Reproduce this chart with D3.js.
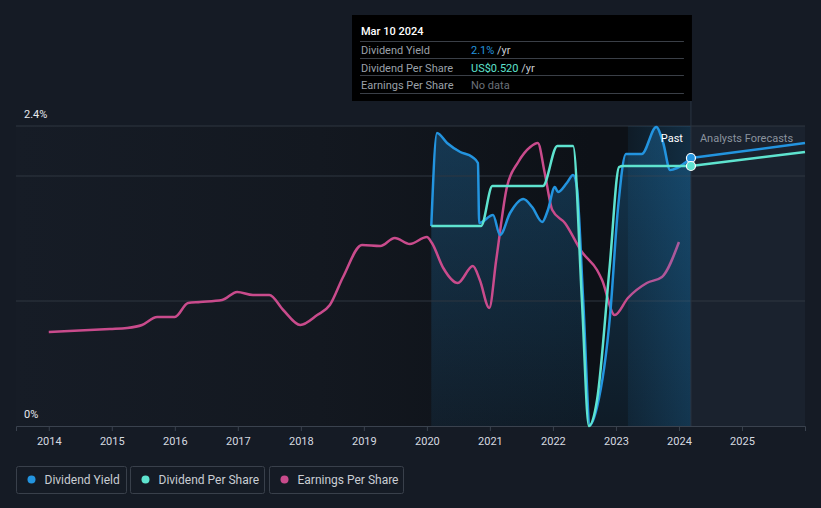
<!DOCTYPE html>
<html>
<head>
<meta charset="utf-8">
<script src="https://cdn.jsdelivr.net/npm/d3@7"></script>
<style>
  html, body { margin: 0; padding: 0; background: #151b25; }
  svg { display: block; font-family: Roboto, "Noto Sans", sans-serif; }
</style>
</head>
<body>
<svg id="chart" width="821" height="508"></svg>
<script>
// ---------- data (decimal years) ----------
const yearTicks = [2014, 2015, 2016, 2017, 2018, 2019, 2020, 2021, 2022, 2023, 2024, 2025];
const yLabels = [{ v: 2.4, t: "2.4%" }, { v: 0, t: "0%" }];
const gridValues = [1.0, 2.0, 2.4];

// Dividend yield (%)
const yieldDates = [2020.07, 2020.16, 2020.32, 2020.53, 2020.72, 2020.81, 2020.83, 2021.05, 2021.16, 2021.32, 2021.53, 2021.67, 2021.83, 2021.92, 2022.03, 2022.08, 2022.22, 2022.32, 2022.38, 2022.48, 2022.59, 2022.70, 2022.91, 2023.03, 2023.16, 2023.41, 2023.64, 2023.75, 2023.86, 2023.97, 2024.19];
const yieldValues = [1.60, 2.344, 2.264, 2.192, 2.152, 2.104, 1.624, 1.688, 1.528, 1.704, 1.816, 1.752, 1.632, 1.728, 1.912, 1.872, 1.944, 2.008, 1.912, 1.008, 0.008, 0.152, 0.904, 1.728, 2.176, 2.176, 2.392, 2.264, 2.048, 2.064, 2.144];
const yieldForecastDates = [2024.19, 2026.0];
const yieldForecastValues = [2.144, 2.264];

// Dividend per share (US$)
const dpsDates = [2020.07, 2020.86, 2021.04, 2021.84, 2022.07, 2022.32, 2022.46, 2022.57, 2022.70, 2022.90, 2023.05, 2023.11, 2024.19];
const dpsValues = [0.400, 0.400, 0.480, 0.480, 0.560, 0.560, 0.252, 0.0, 0.052, 0.318, 0.518, 0.520, 0.520];
const dpsForecastDates = [2024.19, 2026.0];
const dpsForecastValues = [0.520, 0.548];

// Earnings per share (US$)
const epsDates = [2014.00, 2014.97, 2015.24, 2015.48, 2015.72, 2016.00, 2016.21, 2016.40, 2016.75, 2016.99, 2017.24, 2017.50, 2017.72, 2017.99, 2018.26, 2018.46, 2018.67, 2018.97, 2019.26, 2019.49, 2019.73, 2020.00, 2020.08, 2020.26, 2020.49, 2020.73, 2020.84, 2020.99, 2021.10, 2021.27, 2021.45, 2021.64, 2021.76, 2021.87, 2021.99, 2022.19, 2022.46, 2022.70, 2022.78, 2022.98, 2023.19, 2023.49, 2023.73, 2024.00];
const epsValues = [0.376, 0.388, 0.392, 0.404, 0.436, 0.436, 0.492, 0.496, 0.504, 0.536, 0.524, 0.524, 0.464, 0.404, 0.444, 0.484, 0.596, 0.724, 0.720, 0.752, 0.728, 0.756, 0.732, 0.632, 0.572, 0.640, 0.584, 0.472, 0.664, 0.956, 1.056, 1.116, 1.132, 1.012, 0.864, 0.812, 0.696, 0.624, 0.584, 0.444, 0.512, 0.572, 0.596, 0.736];

const pastEnd = 2024.19;
const highlightStart = 2023.19;

const seriesNames = ["Dividend Yield", "Dividend Per Share", "Earnings Per Share"];
const seriesColors = ["#2394df", "#5ee3cf", "#c94b8c"];

const tooltipDate = "Mar 10 2024";
const tooltipRows = [
  { label: "Dividend Yield", value: "2.1%", unit: " /yr", color: "#2394df" },
  { label: "Dividend Per Share", value: "US$0.520", unit: " /yr", color: "#5ee3cf" },
  { label: "Earnings Per Share", value: "No data", unit: "", color: "#6b717a" }
];

// ---------- scales ----------
const svg = d3.select("#chart");
const x = d3.scaleLinear().domain([2013.48, 2026.0]).range([16, 805]);
const yY = d3.scaleLinear().domain([0, 2.4]).range([426, 126]);
const yD = d3.scaleLinear().domain([0, 0.6]).range([426, 126]);
const yE = d3.scaleLinear().domain([0, 1.2]).range([426, 126]);
const plotTop = yY(2.4), plotBottom = yY(0);

const defs = svg.append("defs");
const gPast = defs.append("linearGradient").attr("id", "pastBg").attr("x1", 0).attr("x2", 1).attr("y1", 0).attr("y2", 0);
gPast.append("stop").attr("offset", "0%").attr("stop-color", "#161c26");
gPast.append("stop").attr("offset", "45%").attr("stop-color", "#131820");
gPast.append("stop").attr("offset", "85%").attr("stop-color", "#0d1117");
gPast.append("stop").attr("offset", "100%").attr("stop-color", "#0d1117");

const gArea = defs.append("linearGradient").attr("id", "areaFill").attr("x1", 0).attr("x2", 0).attr("y1", 0).attr("y2", 1);
gArea.append("stop").attr("offset", "0%").attr("stop-color", "#2394df").attr("stop-opacity", 0.28);
gArea.append("stop").attr("offset", "100%").attr("stop-color", "#2394df").attr("stop-opacity", 0.08);

const gHi = defs.append("linearGradient").attr("id", "hiFill").attr("x1", 0).attr("x2", 1).attr("y1", 0).attr("y2", 0);
gHi.append("stop").attr("offset", "0%").attr("stop-color", "#2394df").attr("stop-opacity", 0.08);
gHi.append("stop").attr("offset", "100%").attr("stop-color", "#2394df").attr("stop-opacity", 0.22);

// background regions
svg.append("rect").attr("x", x.range()[0]).attr("y", plotTop).attr("width", x(pastEnd) - x.range()[0]).attr("height", plotBottom - plotTop).attr("fill", "url(#pastBg)");
svg.append("rect").attr("x", x(pastEnd)).attr("y", plotTop).attr("width", x.range()[1] - x(pastEnd)).attr("height", plotBottom - plotTop).attr("fill", "#1a222e");

// area under yield
const yieldData = yieldDates.map((d, i) => ({ d, v: yieldValues[i] }));
svg.append("path").datum(yieldData)
  .attr("d", d3.area().x(p => x(p.d)).y0(plotBottom).y1(p => yY(p.v)).curve(d3.curveMonotoneX))
  .attr("fill", "url(#areaFill)");

// grid
svg.append("g").selectAll("line").data(gridValues).join("line")
  .attr("x1", x.range()[0]).attr("x2", x.range()[1])
  .attr("y1", d => yY(d)).attr("y2", d => yY(d))
  .attr("stroke", "#2f3641").attr("stroke-width", 1);

// lines
const lineGen = (ys) => d3.line().x(p => x(p.d)).y(p => ys(p.v)).curve(d3.curveMonotoneX);
const epsData = epsDates.map((d, i) => ({ d, v: epsValues[i] }));
const dpsData = dpsDates.map((d, i) => ({ d, v: dpsValues[i] }));
const yfData = yieldForecastDates.map((d, i) => ({ d, v: yieldForecastValues[i] }));
const dfData = dpsForecastDates.map((d, i) => ({ d, v: dpsForecastValues[i] }));

svg.append("path").datum(epsData).attr("d", lineGen(yE)).attr("fill", "none").attr("stroke", seriesColors[2]).attr("stroke-width", 2.5);

// highlight band (over EPS, under dividend lines)
svg.append("rect").attr("x", x(highlightStart)).attr("y", plotTop).attr("width", x(pastEnd) - x(highlightStart)).attr("height", plotBottom - plotTop).attr("fill", "url(#hiFill)");

// x axis
const xAxis = svg.append("g").attr("transform", `translate(0,${plotBottom})`)
  .call(d3.axisBottom(x).tickValues(yearTicks).tickFormat(d3.format("d")).tickSize(5).tickPadding(6));
xAxis.select(".domain").attr("stroke", "#3a424e");
xAxis.selectAll(".tick line").attr("stroke", "#3a424e");
xAxis.selectAll(".tick text").attr("fill", "#d6dae0").attr("font-size", 11).attr("font-family", "Roboto, sans-serif");

// y labels
svg.append("g").selectAll("text").data(yLabels).join("text")
  .attr("x", 24).attr("y", d => yY(d.v) - 8)
  .attr("fill", "#e6e9ee").attr("font-size", 11).text(d => d.t);

// vertical marker
svg.append("line").attr("x1", x(pastEnd)).attr("x2", x(pastEnd)).attr("y1", 101).attr("y2", plotBottom)
  .attr("stroke", "#2a3543").attr("stroke-width", 1);

svg.append("path").datum(yieldData).attr("d", lineGen(yY)).attr("fill", "none").attr("stroke", seriesColors[0]).attr("stroke-width", 2.5);
svg.append("path").datum(dpsData).attr("d", lineGen(yD)).attr("fill", "none").attr("stroke", seriesColors[1]).attr("stroke-width", 2.5);
svg.append("path").datum(yfData).attr("d", lineGen(yY)).attr("fill", "none").attr("stroke", seriesColors[0]).attr("stroke-width", 2.5);
svg.append("path").datum(dfData).attr("d", lineGen(yD)).attr("fill", "none").attr("stroke", seriesColors[1]).attr("stroke-width", 2.5);

// dots
svg.append("circle").attr("cx", x(pastEnd)).attr("cy", yY(yieldForecastValues[0])).attr("r", 4.5).attr("fill", seriesColors[0]).attr("stroke", "#ffffff").attr("stroke-width", 1.2);
svg.append("circle").attr("cx", x(pastEnd)).attr("cy", yD(dpsForecastValues[0])).attr("r", 4.5).attr("fill", seriesColors[1]).attr("stroke", "#ffffff").attr("stroke-width", 1.2);

// Past / forecast labels
svg.append("text").attr("x", x(pastEnd) - 8).attr("y", 142).attr("text-anchor", "end").attr("fill", "#ffffff").attr("font-size", 11).text("Past");
svg.append("text").attr("x", x(pastEnd) + 9).attr("y", 142).attr("fill", "#8b939e").attr("font-size", 11).text("Analysts Forecasts");

// tooltip
const tipRight = x(pastEnd) + 1, tipLeft = 352;
const tip = svg.append("g");
tip.append("rect").attr("x", tipLeft).attr("y", 15).attr("width", tipRight - tipLeft).attr("height", 86).attr("fill", "#000000");
tip.append("text").attr("x", tipLeft + 9).attr("y", 35).attr("fill", "#ffffff").attr("font-size", 11).attr("font-weight", 500).text(tooltipDate);
const sepYs = [41.5, 58.5, 75.5, 93.5];
tip.selectAll("line").data(sepYs).join("line")
  .attr("x1", tipLeft + 8).attr("x2", tipRight - 8).attr("y1", d => d).attr("y2", d => d)
  .attr("stroke", "#3a3f47").attr("stroke-width", 1);
tooltipRows.forEach((r, i) => {
  const yy = 54 + i * 17.5;
  tip.append("text").attr("x", tipLeft + 9).attr("y", yy).attr("fill", "#9ba1a9").attr("font-size", 11).text(r.label);
  const t = tip.append("text").attr("x", tipLeft + 119).attr("y", yy).attr("font-size", 11);
  t.append("tspan").attr("fill", r.color).text(r.value);
  t.append("tspan").attr("fill", "#c9cdd3").text(r.unit);
});

// legend
const legendBoxes = [{ x: 16, w: 110 }, { x: 130, w: 134 }, { x: 269, w: 134 }];
const lg = svg.append("g");
seriesNames.forEach((n, i) => {
  const b = legendBoxes[i];
  lg.append("rect").attr("x", b.x + 0.5).attr("y", 466.5).attr("width", b.w).attr("height", 27).attr("rx", 2)
    .attr("fill", "none").attr("stroke", "#39404b");
  lg.append("circle").attr("cx", b.x + 15.5).attr("cy", 479.5).attr("r", 4).attr("fill", seriesColors[i]);
  lg.append("text").attr("x", b.x + 28.5).attr("y", 483.5).attr("fill", "#c9cdd3").attr("font-size", 12).text(n);
});
</script>
</body>
</html>
